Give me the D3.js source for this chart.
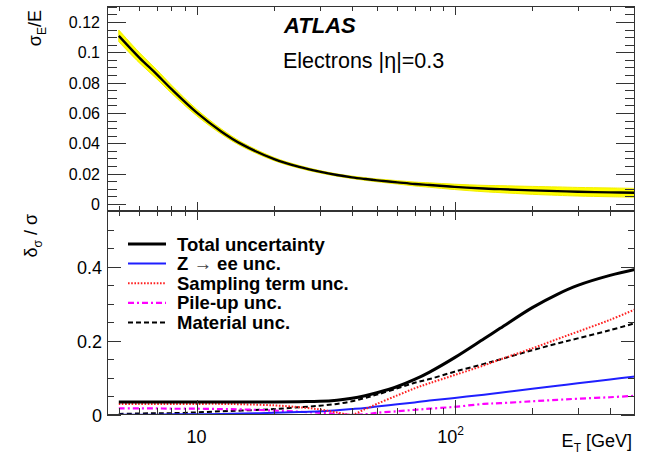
<!DOCTYPE html>
<html>
<head>
<meta charset="utf-8">
<script src="https://cdn.jsdelivr.net/npm/d3@7"></script>
<style>
  body { margin: 0; background: #fff; }
  svg { display: block; }
  text { font-family: "Liberation Sans", Arial, Helvetica, sans-serif; fill: #000; }
</style>
</head>
<body>
<svg id="chart" width="647" height="454"></svg>
<script>
// Electron energy resolution and its relative uncertainty versus E_T
const energyGeV   = [5, 6, 7, 8, 10, 12.5, 15, 20, 25, 30, 35, 40, 45, 50, 60, 70, 80, 100, 130, 150, 200, 250, 300, 400, 500];
const resolution  = [0.1108, 0.0965, 0.0856, 0.0757, 0.0604, 0.0477, 0.0393, 0.0296, 0.0245, 0.0213, 0.0191, 0.0176, 0.0165, 0.0156, 0.0143, 0.0132, 0.0125, 0.0113, 0.0102, 0.0098, 0.0090, 0.0085, 0.0081, 0.0077, 0.0074];
const totalUnc    = [0.035, 0.035, 0.035, 0.035, 0.035, 0.035, 0.035, 0.035, 0.036, 0.037, 0.040, 0.045, 0.052, 0.060, 0.077, 0.096, 0.116, 0.155, 0.206, 0.234, 0.290, 0.326, 0.350, 0.377, 0.393];
const zeeUnc      = [0.001, 0.001, 0.001, 0.002, 0.002, 0.003, 0.004, 0.006, 0.008, 0.010, 0.013, 0.016, 0.019, 0.023, 0.029, 0.034, 0.039, 0.046, 0.055, 0.060, 0.071, 0.079, 0.086, 0.096, 0.104];
const samplingUnc = [0.030, 0.030, 0.030, 0.030, 0.030, 0.030, 0.029, 0.026, 0.021, 0.015, 0.007, 0.001, 0.016, 0.030, 0.053, 0.072, 0.086, 0.108, 0.134, 0.150, 0.180, 0.205, 0.225, 0.257, 0.285];
const pileupUnc   = [0.018, 0.018, 0.018, 0.017, 0.017, 0.016, 0.015, 0.012, 0.009, 0.006, 0.003, 0.001, 0.002, 0.006, 0.010, 0.014, 0.017, 0.022, 0.030, 0.032, 0.037, 0.041, 0.044, 0.048, 0.052];
const materialUnc = [0.003, 0.004, 0.005, 0.005, 0.007, 0.010, 0.012, 0.016, 0.021, 0.025, 0.030, 0.037, 0.046, 0.055, 0.072, 0.087, 0.097, 0.117, 0.138, 0.150, 0.175, 0.193, 0.207, 0.229, 0.248];

const xMajorTicks = [10, 100];
const xMinorTicks = [5, 6, 7, 8, 9, 20, 30, 40, 50, 60, 70, 80, 90, 200, 300, 400];
const topYTicks = [0, 0.02, 0.04, 0.06, 0.08, 0.1, 0.12];
const topYTickLabels = ["0", "0.02", "0.04", "0.06", "0.08", "0.1", "0.12"];
const bottomYTicks = [0, 0.2, 0.4];
const bottomYTickLabels = ["0", "0.2", "0.4"];
const legendLabels = ["Total uncertainty", "Z \u2192 ee unc.", "Sampling term unc.", "Pile-up unc.", "Material unc."];

const svg = d3.select("#chart");
const L = 107, R = 635;
const T1 = 6, B1 = 211, T2 = 211, B2 = 415;
const frameColor = "#333";

const x = d3.scaleLog().domain([4.5, 500]).range([L, R]);
const yTop = d3.scaleLinear().domain([-0.0046, 0.1305]).range([B1, T1]);
const yBot = d3.scaleLinear().domain([0, 0.551]).range([B2, T2]);
const smooth = d3.curveCatmullRom.alpha(0.5);

const rows = energyGeV.map((e, i) => ({
  e, r: resolution[i], tot: totalUnc[i], zee: zeeUnc[i],
  samp: samplingUnc[i], pu: pileupUnc[i], mat: materialUnc[i]
}));

// clip regions for the two pads
const defs = svg.append("defs");
defs.append("clipPath").attr("id", "clipTop").append("rect")
  .attr("x", L).attr("y", T1).attr("width", R - L).attr("height", B1 - T1);
defs.append("clipPath").attr("id", "clipBot").append("rect")
  .attr("x", L).attr("y", T2).attr("width", R - L).attr("height", B2 - T2);

// ---------- upper pad: resolution with uncertainty band ----------
const gTop = svg.append("g").attr("clip-path", "url(#clipTop)");
gTop.append("path")
  .datum(rows)
  .attr("fill", "#ffff00")
  .attr("stroke", "#f2ee00")
  .attr("stroke-width", 1)
  .attr("d", d3.area()
    .x(d => x(d.e))
    .y0(d => yTop(d.r * (1 - d.tot)))
    .y1(d => yTop(d.r * (1 + d.tot)))
    .curve(smooth));
gTop.append("path")
  .datum(rows)
  .attr("fill", "none")
  .attr("stroke", "#000")
  .attr("stroke-width", 2.4)
  .attr("d", d3.line().x(d => x(d.e)).y(d => yTop(d.r)).curve(smooth));

// ---------- lower pad: uncertainty components ----------
const series = [
  { key: "tot",  color: "#000",    width: 3,   dash: null },
  { key: "zee",  color: "#1f1fff", width: 2,   dash: null },
  { key: "samp", color: "#ff2020", width: 2,   dash: "1.6,1.6" },
  { key: "pu",   color: "#ff00ff", width: 2.2, dash: "6,3,2,3" },
  { key: "mat",  color: "#000",    width: 2,   dash: "5,3" }
];
const gBot = svg.append("g").attr("clip-path", "url(#clipBot)");
// components first, total on top
[series[4], series[3], series[1], series[2], series[0]].forEach(s => {
  gBot.append("path")
    .datum(rows)
    .attr("fill", "none")
    .attr("stroke", s.color)
    .attr("stroke-width", s.width)
    .attr("stroke-dasharray", s.dash)
    .attr("d", d3.line().x(d => x(d.e)).y(d => yBot(d[s.key])).curve(smooth));
});

// ---------- frames and ticks ----------
function drawPad(yScale, top, bottom, yMajor, yMinor, yMajLen, yMinLen, xMajLen, xMinLen, xTopMaj, xTopMin) {
  const g = svg.append("g").attr("stroke", frameColor).attr("stroke-width", 1).attr("fill", "none");
  g.append("rect").attr("x", L + 0.5).attr("y", top + 0.5).attr("width", R - L - 1).attr("height", bottom - top - 1);
  // y ticks, left and right, pointing inward
  yMajor.forEach(v => {
    const yy = Math.round(yScale(v)) + 0.5;
    g.append("line").attr("x1", L).attr("x2", L + yMajLen).attr("y1", yy).attr("y2", yy);
    g.append("line").attr("x1", R).attr("x2", R - yMajLen).attr("y1", yy).attr("y2", yy);
  });
  yMinor.forEach(v => {
    const yy = Math.round(yScale(v)) + 0.5;
    if (yy < top + 1 || yy > bottom - 1) return;
    g.append("line").attr("x1", L).attr("x2", L + yMinLen).attr("y1", yy).attr("y2", yy);
    g.append("line").attr("x1", R).attr("x2", R - yMinLen).attr("y1", yy).attr("y2", yy);
  });
  // x ticks at the bottom (pointing up) and top (pointing down)
  xMajorTicks.forEach(v => {
    const xx = Math.round(x(v)) + 0.5;
    g.append("line").attr("x1", xx).attr("x2", xx).attr("y1", bottom).attr("y2", bottom - xMajLen);
    g.append("line").attr("x1", xx).attr("x2", xx).attr("y1", top).attr("y2", top + xTopMaj);
  });
  xMinorTicks.forEach(v => {
    const xx = Math.round(x(v)) + 0.5;
    g.append("line").attr("x1", xx).attr("x2", xx).attr("y1", bottom).attr("y2", bottom - xMinLen);
    g.append("line").attr("x1", xx).attr("x2", xx).attr("y1", top).attr("y2", top + xTopMin);
  });
}
drawPad(yTop, T1, B1, topYTicks, d3.range(-0.005, 0.1351, 0.005), 19, 10, 9, 5, 9, 5);
drawPad(yBot, T2, B2, bottomYTicks, d3.range(0.05, 0.551, 0.05), 14, 7, 15, 7, 9, 5);

// ---------- tick labels ----------
svg.append("g").selectAll("text").data(topYTicks).join("text")
  .attr("x", 100).attr("y", d => yTop(d) + 6)
  .attr("text-anchor", "end").attr("font-size", 16).attr("fill", "#222")
  .text((d, i) => topYTickLabels[i]);
svg.append("g").selectAll("text").data(bottomYTicks).join("text")
  .attr("x", 102).attr("y", d => yBot(d) + 7)
  .attr("text-anchor", "end").attr("font-size", 18).attr("fill", "#222")
  .text((d, i) => bottomYTickLabels[i]);

const xl = svg.append("g").attr("font-size", 18).attr("fill", "#222");
xl.append("text").attr("x", x(10)).attr("y", 443).attr("text-anchor", "middle").text("10");
const t100 = xl.append("text").attr("x", x(100) - 4).attr("y", 443).attr("text-anchor", "middle");
t100.append("tspan").text("10");
t100.append("tspan").attr("font-size", 12).attr("dy", -8).text("2");

// ---------- axis titles ----------
const xt = svg.append("text").attr("x", 632).attr("y", 447).attr("text-anchor", "end").attr("font-size", 18);
xt.append("tspan").text("E");
xt.append("tspan").attr("font-size", 12).attr("dy", 5).text("T");
xt.append("tspan").attr("dy", -5).text(" [GeV]");

const yt1 = svg.append("text").attr("transform", "translate(41,10) rotate(-90)")
  .attr("text-anchor", "end").attr("font-size", 18);
yt1.append("tspan").text("\u03c3");
yt1.append("tspan").attr("font-size", 12).attr("dy", 5).text("E");
yt1.append("tspan").attr("dy", -5).text("/E");

const yt2 = svg.append("text").attr("transform", "translate(37,214) rotate(-90)")
  .attr("text-anchor", "end").attr("font-size", 18);
yt2.append("tspan").text("\u03b4");
yt2.append("tspan").attr("font-size", 12).attr("dy", 5).text("\u03c3");
yt2.append("tspan").attr("dy", -5).text(" / \u03c3");

// ---------- labels inside the upper pad ----------
svg.append("text").attr("x", 284).attr("y", 33)
  .attr("font-size", 22).attr("font-weight", "bold").attr("font-style", "italic")
  .text("ATLAS");
svg.append("text").attr("x", 283).attr("y", 68).attr("font-size", 21.5).attr("fill", "#222")
  .text("Electrons |\u03b7|=0.3");

// ---------- legend ----------
const leg = svg.append("g");
series.forEach((s, i) => {
  const yy = 244 + i * 19.6;
  leg.append("line")
    .attr("x1", 128).attr("x2", 166).attr("y1", yy).attr("y2", yy)
    .attr("stroke", s.color).attr("stroke-width", s.width)
    .attr("stroke-dasharray", s.dash);
  const t = leg.append("text").attr("x", 177).attr("y", yy + 6.5)
    .attr("font-size", 18.5).attr("font-weight", "bold");
  if (i === 1) {
    t.append("tspan").text("Z ");
    t.append("tspan").attr("font-weight", "normal").attr("fill", "#444").text(" \u2192 ");
    t.append("tspan").text("ee unc.");
  } else {
    t.text(legendLabels[i]);
  }
});
</script>
</body>
</html>
